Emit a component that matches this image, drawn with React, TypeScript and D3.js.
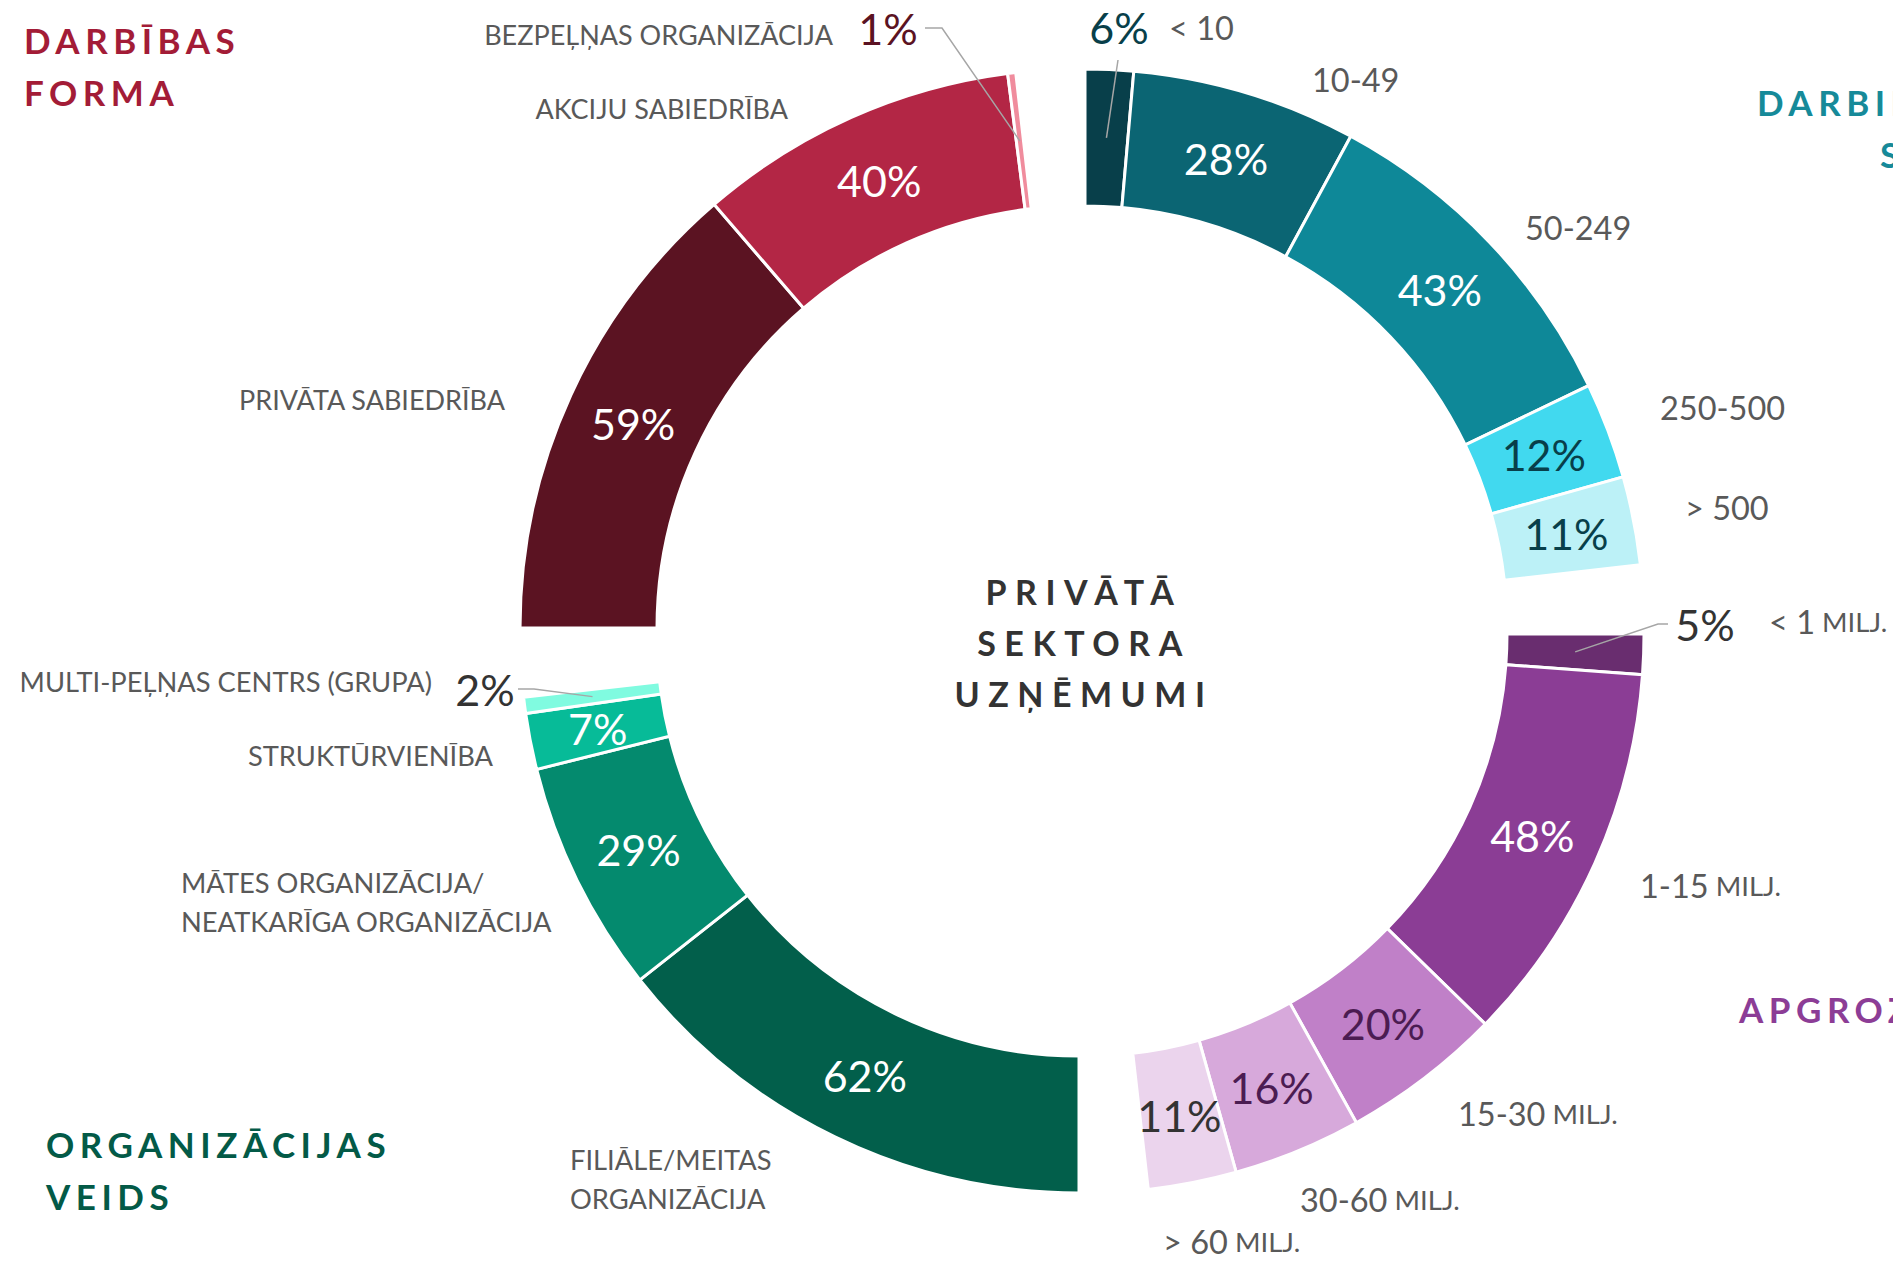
import React from 'react';
import * as d3 from 'd3';

// ---------- DATA ----------
const TR_CATEGORIES = ['< 10', '10-49', '50-249', '250-500', '> 500'];
const TR_VALUES = [6, 28, 43, 12, 11];

const BR_CATEGORIES = ['< 1', '1-15', '15-30', '30-60', '> 60'];
const BR_VALUES = [5, 48, 20, 16, 11];

const BL_CATEGORIES = [
  'FILIĀLE/MEITAS|ORGANIZĀCIJA',
  'MĀTES ORGANIZĀCIJA/|NEATKARĪGA ORGANIZĀCIJA',
  'STRUKTŪRVIENĪBA',
  'MULTI-PEĻŅAS CENTRS (GRUPA)',
];
const BL_VALUES = [62, 29, 7, 2];

const TL_CATEGORIES = ['PRIVĀTA SABIEDRĪBA', 'AKCIJU SABIEDRĪBA', 'BEZPEĻŅAS ORGANIZĀCIJA'];
const TL_VALUES = [59, 40, 1];

const GROUP_TITLES = ['DARBINIEKU|SKAITS', 'APGROZĪJUMS', 'ORGANIZĀCIJAS|VEIDS', 'DARBĪBAS|FORMA'];
const CENTER_TITLE = ['PRIVĀTĀ', 'SEKTORA', 'UZŅĒMUMI'];
const MILJ = 'MILJ.';

// ---------- STYLE / LAYOUT ----------
const W = 1893;
const H = 1261;
const BASE = { x: 1082, y: 631 };
const EXPLODE = 3;
const R_OUT = 559;
const R_IN = 422;
const SPAN = 83.5; // degrees used by each group of a quarter
const FONT = 'Lato, "Open Sans", sans-serif';
const LABEL_GREY = '#595959';

const PALETTE = {
  tr: ['#083f4a', '#0b6573', '#0e8898', '#41d9ef', '#bcf1f7'],
  br: ['#692d6f', '#8b3d95', '#c080c8', '#d7a9db', '#ebd4ed'],
  bl: ['#025f4b', '#048a6e', '#07bb98', '#80fbe0'],
  tl: ['#5b1322', '#b32645', '#f08c9d'],
};
const PCT_COLORS = {
  tr: ['#083f4a', '#ffffff', '#ffffff', '#083f4a', '#083f4a'],
  br: ['#333333', '#ffffff', '#4b1c52', '#4b1c52', '#333333'],
  bl: ['#ffffff', '#ffffff', '#ffffff', '#333333'],
  tl: ['#ffffff', '#ffffff', '#5b1322'],
};
const TITLE_COLORS = ['#168a99', '#8c3d96', '#035a47', '#a31c37'];

// category label font sizes per group (numeric groups are set larger)
const CAT_FONT = { tr: 32.5, br: 32.5, bl: 27.3, tl: 27 };
const MILJ_FONT = 27.5;

// label layout (text box anchors, in px)
const LABEL_POS = {
  tr: [[1169, 27, 'start'], [1312, 79, 'start'], [1525, 227, 'start'], [1660, 407, 'start'], [1685, 507, 'start']],
  br: [[1769, 621, 'start'], [1640, 885, 'start'], [1458, 1113, 'start'], [1300, 1199, 'start'], [1163, 1241, 'start']],
  bl: [[570, 1159, 'start'], [181, 882, 'start'], [493, 755, 'end'], [432, 681, 'end']],
  tl: [[505, 399, 'end'], [788, 108, 'end'], [833, 34, 'end']],
};
// outside percentage labels: [segment index, x, y, leader start x, leader elbow x, leader start y]
const OUTSIDE_PCT = {
  tr: [[0, 1119, 27, 1118, null, 60]],
  br: [[0, 1705, 624, 1668, 1658, null]],
  bl: [[3, 485, 689, 518, 534, null]],
  tl: [[2, 888, 28, 925, 942, null]],
};

const GROUPS = [
  { key: 'tr', cats: TR_CATEGORIES, vals: TR_VALUES, start: 0, sx: 1, sy: -1 },
  { key: 'br', cats: BR_CATEGORIES, vals: BR_VALUES, start: 90, sx: 1, sy: 1 },
  { key: 'bl', cats: BL_CATEGORIES, vals: BL_VALUES, start: 180, sx: -1, sy: 1 },
  { key: 'tl', cats: TL_CATEGORIES, vals: TL_VALUES, start: 270, sx: -1, sy: -1 },
];

const rad = (d: number) => (d * Math.PI) / 180;

export default function App() {
  const arc = d3.arc<any>().innerRadius(R_IN).outerRadius(R_OUT);

  const groups = GROUPS.map((g) => {
    const cx = BASE.x + g.sx * EXPLODE;
    const cy = BASE.y + g.sy * EXPLODE;
    const total = d3.sum(g.vals);
    const angle = d3.scaleLinear().domain([0, total]).range([rad(g.start), rad(g.start + SPAN)]);
    const cum = d3.cumsum(g.vals);
    const segs = g.vals.map((v, i) => {
      const a0 = angle(cum[i] - v);
      const a1 = angle(cum[i]);
      const d = { startAngle: a0, endAngle: a1 };
      const c = arc.centroid(d as any);
      return { v, i, path: arc(d as any) as string, cx: c[0] + cx, cy: c[1] + cy };
    });
    return { ...g, cx, cy, segs };
  });

  const outsideIdx = (key: string) => (OUTSIDE_PCT as any)[key].map((o: any) => o[0]);

  return (
    <svg
      width={W}
      height={H}
      viewBox={`0 0 ${W} ${H}`}
      style={{ position: 'absolute', left: 0, top: 0, background: '#ffffff', overflow: 'hidden' }}
      fontFamily={FONT}
    >
      <rect x={0} y={0} width={W} height={H} fill="#ffffff" />
      {groups.map((g) => (
        <g key={g.key}>
          <g transform={`translate(${g.cx},${g.cy})`}>
            {g.segs.map((s) => (
              <path
                key={s.i}
                d={s.path}
                fill={(PALETTE as any)[g.key][s.i]}
                stroke="#ffffff"
                strokeWidth={3}
                strokeLinejoin="miter"
              />
            ))}
          </g>
          {g.segs
            .filter((s) => !outsideIdx(g.key).includes(s.i))
            .map((s) => (
              <text
                key={'p' + s.i}
                x={s.cx}
                y={s.cy}
                textAnchor="middle"
                dominantBaseline="central"
                fontSize={43}
                fill={(PCT_COLORS as any)[g.key][s.i]}
              >
                {s.v}%
              </text>
            ))}
          {(OUTSIDE_PCT as any)[g.key].map((o: any, k: number) => {
            const s = g.segs[o[0]];
            let pts: [number, number][];
            if (o[5] != null) {
              pts = [[o[3], o[5]], [s.cx, s.cy]];
            } else {
              pts = [[o[3], o[2]], [o[4], o[2]], [s.cx, s.cy]];
            }
            return (
              <g key={'o' + k}>
                <path
                  d={d3.line()(pts) as string}
                  fill="none"
                  stroke="#a6a6a6"
                  strokeWidth={1.5}
                />
                <text
                  x={o[1]}
                  y={o[2]}
                  textAnchor="middle"
                  dominantBaseline="central"
                  fontSize={43}
                  fill={(PCT_COLORS as any)[g.key][o[0]]}
                >
                  {s.v}%
                </text>
              </g>
            );
          })}
          {g.cats.map((c, i) => {
            const p = (LABEL_POS as any)[g.key][i];
            const lines = c.split('|');
            return (
              <text
                key={'c' + i}
                x={p[0]}
                y={p[1]}
                textAnchor={p[2]}
                dominantBaseline="central"
                fontSize={(CAT_FONT as any)[g.key]}
                fill={LABEL_GREY}
              >
                {lines.map((ln, li) => (
                  <tspan key={li} x={p[0]} dy={li === 0 ? 0 : 38.5}>
                    {ln}
                    {g.key === 'br' ? (
                      <tspan fontSize={MILJ_FONT}> {MILJ}</tspan>
                    ) : null}
                  </tspan>
                ))}
              </text>
            );
          })}
        </g>
      ))}

      {/* center title */}
      {CENTER_TITLE.map((t, i) => (
        <text
          key={t}
          x={1080 + 4}
          y={605 + i * 51}
          textAnchor="middle"
          fontSize={34}
          fontWeight={700}
          letterSpacing={8.5}
          fill="#333333"
        >
          {t}
        </text>
      ))}

      {/* group titles */}
      {[
        { t: GROUP_TITLES[3], x: [24, 24], y: 54, c: TITLE_COLORS[3] },
        { t: GROUP_TITLES[2], x: [46, 46], y: 1158, c: TITLE_COLORS[2] },
        { t: GROUP_TITLES[0], x: [1757, 1880], y: 116, c: TITLE_COLORS[0] },
        { t: GROUP_TITLES[1], x: [1739, 1739], y: 1023, c: TITLE_COLORS[1] },
      ].map((tt, k) => (
        <text key={'t' + k} fontSize={35} fontWeight={700} letterSpacing={5.5} fill={tt.c}>
          {tt.t.split('|').map((ln, li) => (
            <tspan key={li} x={tt.x[li]} y={tt.y + li * 52}>
              {ln}
            </tspan>
          ))}
        </text>
      ))}
    </svg>
  );
}
